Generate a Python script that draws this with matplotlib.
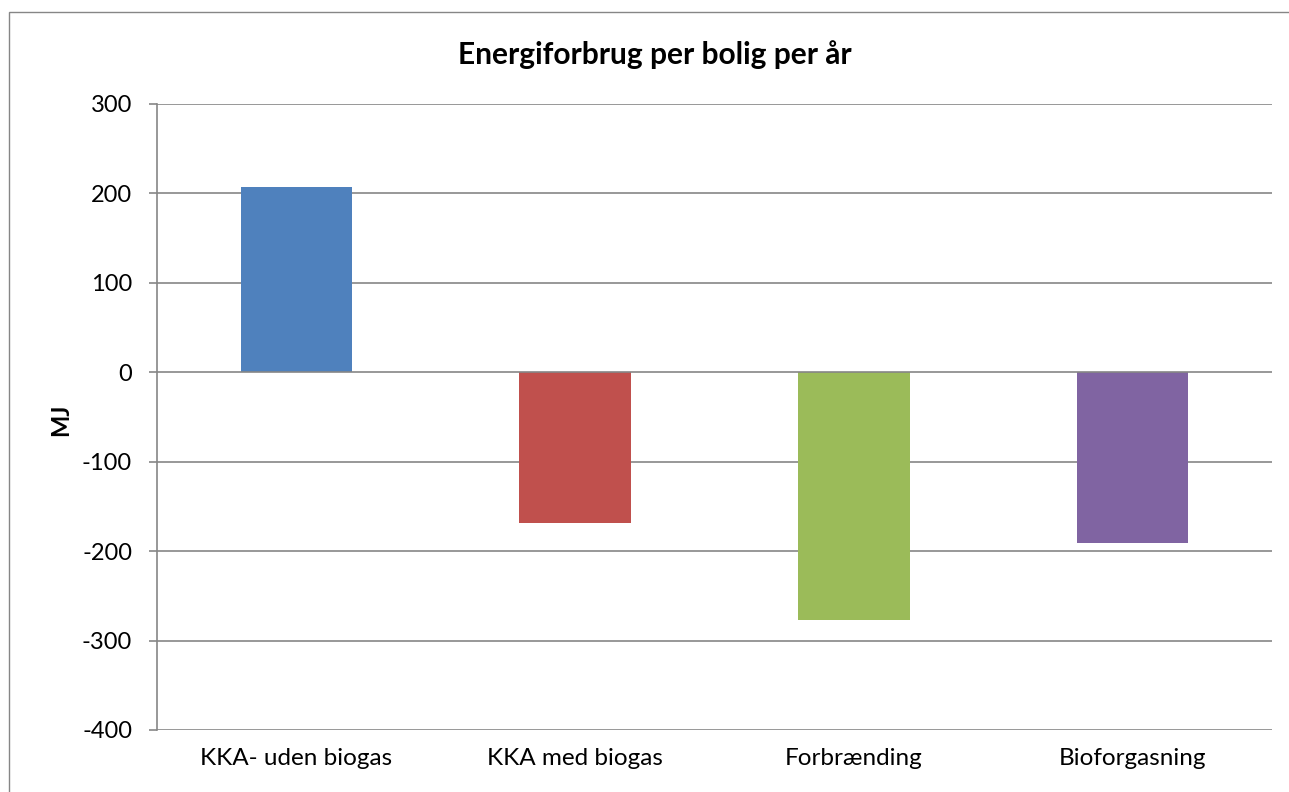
import matplotlib.pyplot as plt
from matplotlib.patches import Rectangle

# Energiforbrug per bolig per år (MJ)
categories = ['KKA- uden biogas', 'KKA med biogas', 'Forbrænding', 'Bioforgasning']
values = [207, -169, -277, -191]
colors = ['#4F81BD', '#C0504D', '#9BBB59', '#8064A2']
yticks = [300, 200, 100, 0, -100, -200, -300, -400]

W, H = 1289, 792
plt.rcParams['font.family'] = ['Lato', 'DejaVu Sans']
fig = plt.figure(figsize=(W / 100, H / 100), dpi=100)
fig.patch.set_facecolor('white')

# chart-area border (runs off the right and bottom edges)
fig.patches.append(Rectangle((9 / W, -0.05), 1.1, 1 - 12 / H + 0.05,
                             transform=fig.transFigure, fill=False,
                             edgecolor='#868686', linewidth=1.0))

ax = fig.add_axes([157 / W, 1 - 730 / H, (1272 - 157) / W, (730 - 104) / H])
grid_c = '#868686'

x = range(len(categories))
ax.bar(x, values, width=0.4, color=colors, zorder=2)

ax.set_xlim(-0.5, len(categories) - 0.5)
ax.set_ylim(-400, 300)
ax.set_yticks(yticks)
ax.set_yticklabels([str(v) for v in yticks], fontsize=17)
ax.set_xticks(list(x))
ax.set_xticklabels(categories, fontsize=17.5)

for v in yticks:
    ax.axhline(v, color=grid_c, linewidth=1.2, zorder=1 if v != 0 else 3)

for s in ['top', 'right', 'bottom']:
    ax.spines[s].set_visible(False)
ax.spines['left'].set_color(grid_c)
ax.spines['left'].set_linewidth(1.2)
ax.spines['left'].set_zorder(3)

ax.tick_params(axis='y', length=6, width=1.2, color=grid_c, pad=12)
ax.tick_params(axis='x', length=0, pad=13)

ax.set_ylabel('MJ', fontsize=17, fontweight='bold')
ax.yaxis.set_label_coords(-0.076, 0.495)
fig.text(655 / W, 1 - 55 / H, 'Energiforbrug per bolig per år', fontsize=21.5,
         fontweight='bold', ha='center', va='center')

fig.savefig('out.png', dpi=100, facecolor='white')
